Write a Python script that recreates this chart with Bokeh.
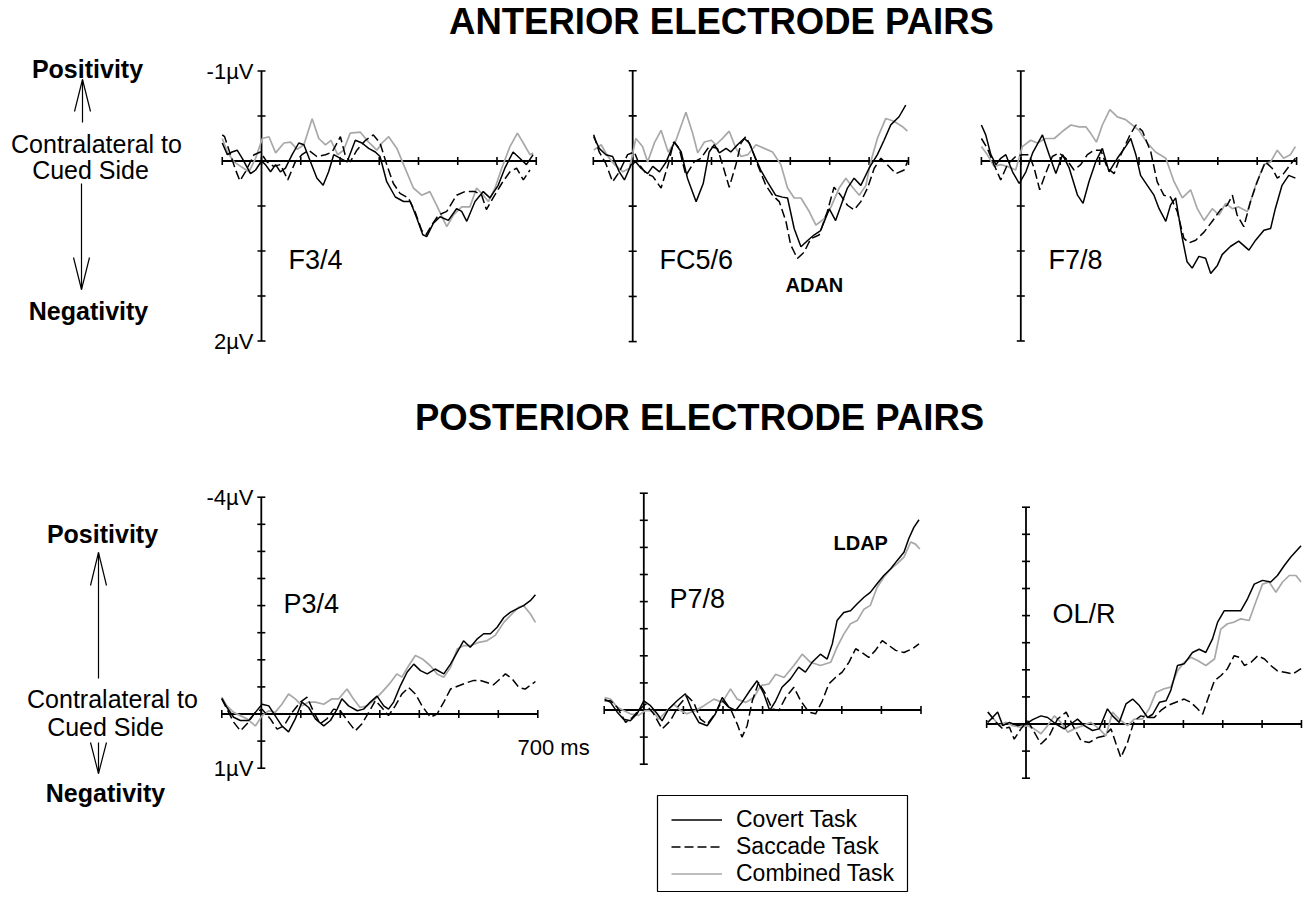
import numpy as np
from bokeh.plotting import figure
from bokeh.models import Range1d, Legend, LegendItem
from bokeh.core.properties import value
from bokeh.embed import file_html
from bokeh.resources import INLINE

# ---------------- data (time in ms, amplitude in microvolts) ----------------
T_MIN, T_MAX = -100, 700
TIME_TICKS = [-100, 0, 100, 200, 300, 400, 500, 600, 700]
SERIES_NAMES = ["Covert Task", "Saccade Task", "Combined Task"]
PANEL_LABELS = ["F3/4", "FC5/6", "F7/8", "P3/4", "P7/8", "OL/R"]
TOP_UV = [-1, 2]          # anterior amplitude axis (top, bottom)
BOTTOM_UV = [-4, 1]       # posterior amplitude axis (top, bottom)
UV_TICK_STEP = 0.5

# F3/4
f34_cov_t = [-100,-87,-75,-62,-49,-28,-15,0,10,23,36,48,61,78,95,108,125,141,157,171,184,201,218,239,256,273,290,302,319,341,362,379,396,411,421,438,455,476,497,510,523,544,565,582,603,620,641,658,675,692]
f34_cov_v = [-0.20,-0.07,-0.10,-0.12,-0.03,0.14,0.10,0.0,0.04,0.12,0.04,0.12,0.08,-0.07,-0.20,-0.18,0.01,0.19,0.27,0.12,-0.07,-0.03,0.01,-0.23,-0.20,-0.14,-0.10,-0.05,0.23,0.40,0.45,0.45,0.64,0.82,0.84,0.69,0.62,0.66,0.53,0.56,0.67,0.45,0.34,0.41,0.27,0.08,-0.10,-0.03,0.04,-0.07]
f34_sac_t = [-100,-94,-79,-66,-55,-41,-19,-3,14,31,48,67,86,103,120,141,163,180,201,213,226,243,265,285,302,319,336,353,374,391,408,419,434,451,472,497,518,544,561,573,590,612,633,650,667,684]
f34_sac_v = [-0.29,-0.27,-0.07,0.10,0.22,0.12,-0.07,-0.10,0.01,0.06,0.04,0.21,0.01,-0.07,-0.12,-0.05,-0.07,-0.10,-0.27,-0.07,0.01,-0.12,-0.23,-0.29,-0.20,0.04,0.25,0.36,0.41,0.56,0.77,0.82,0.71,0.60,0.56,0.38,0.34,0.34,0.38,0.54,0.41,0.25,0.12,0.08,0.21,0.10]
f34_com_t = [-100,-87,-70,-53,-32,-15,2,19,36,57,74,91,108,129,146,163,177,194,209,226,252,273,294,307,324,345,362,387,408,429,446,472,489,510,531,548,565,578,595,612,633,652,667,684,692]
f34_com_v = [-0.25,-0.10,0.01,0.06,0.12,-0.03,-0.25,-0.27,-0.09,-0.20,-0.21,-0.13,-0.18,-0.47,-0.25,-0.18,-0.23,-0.07,-0.12,-0.31,-0.32,-0.21,-0.12,-0.20,-0.27,-0.14,0.04,0.30,0.38,0.34,0.49,0.73,0.60,0.51,0.51,0.30,0.38,0.45,0.30,0.08,-0.16,-0.31,-0.20,-0.07,-0.09]

# FC5/6
fc56_cov_t = [-99,-85,-68,-51,-34,-21,-4,8,21,38,51,68,85,106,123,139,161,179,194,207,220,237,249,266,283,296,308,325,342,363,380,393,410,427,444,460,477,499,515,532,545,562,579,600,621,638,655,676,693]
fc56_cov_v = [-0.27,-0.14,-0.07,-0.05,0.12,0.21,0.04,0.01,0.08,0.14,0.06,0.12,0.01,-0.21,-0.10,0.19,0.45,0.25,-0.10,-0.18,-0.09,-0.14,-0.10,-0.18,-0.25,-0.20,-0.07,0.10,0.23,0.38,0.40,0.41,0.75,0.95,0.88,0.82,0.77,0.53,0.66,0.45,0.30,0.19,0.27,0.08,-0.07,-0.23,-0.40,-0.49,-0.62]
fc56_sac_t = [-99,-85,-68,-51,-34,-13,4,17,34,51,72,90,104,118,135,156,173,194,215,228,245,262,275,287,300,317,338,355,372,389,401,418,435,452,473,494,511,528,545,562,579,596,613,630,646,668,689,697]
fc56_sac_v = [-0.29,-0.10,0.03,0.23,0.12,-0.07,-0.10,0.04,0.14,0.17,0.30,0.04,-0.21,-0.14,0.16,0.01,-0.03,-0.16,-0.14,0.04,0.29,0.04,-0.20,-0.27,-0.16,0.04,0.27,0.38,0.45,0.67,0.93,1.08,1.01,0.86,0.82,0.56,0.29,0.38,0.49,0.54,0.45,0.30,0.08,-0.03,0.04,0.14,0.10,0.01]
fc56_com_t = [-99,-80,-63,-46,-25,-8,8,25,38,55,72,90,110,135,152,165,182,199,211,228,245,262,275,292,313,334,355,376,393,410,427,448,465,486,503,524,541,558,575,592,604,621,642,663,685,697]
fc56_com_v = [-0.12,-0.18,-0.05,0.04,0.12,0.08,-0.25,-0.16,0.01,-0.20,-0.34,-0.10,-0.23,-0.54,-0.31,-0.09,-0.21,-0.23,-0.18,-0.25,-0.33,-0.14,-0.05,-0.07,-0.18,-0.14,-0.10,0.04,0.30,0.41,0.41,0.56,0.71,0.64,0.51,0.30,0.19,0.29,0.38,0.27,0.01,-0.25,-0.47,-0.44,-0.38,-0.33]

# F7/8
f78_cov_t = [-100,-89,-76,-63,-51,-38,-21,-4,13,30,55,72,89,106,123,144,158,173,190,207,224,245,266,279,292,304,321,338,351,368,380,393,410,422,435,452,469,482,499,511,532,553,579,596,617,634,646,663,680,697]
f78_cov_v = [-0.40,-0.29,-0.07,0.04,-0.03,-0.07,0.12,0.25,0.12,-0.09,-0.29,-0.07,0.14,-0.07,0.08,0.38,0.47,0.23,0.01,-0.14,0.12,-0.03,-0.16,-0.25,-0.07,0.16,0.27,0.38,0.53,0.67,0.49,0.41,0.86,1.12,1.19,1.06,1.08,1.25,1.16,1.04,0.95,0.89,0.99,0.88,0.77,0.75,0.53,0.27,0.16,0.19]
f78_sac_t = [-100,-85,-68,-51,-34,-13,4,21,34,48,63,80,97,114,135,152,169,186,203,220,237,254,275,292,309,330,346,363,380,397,414,427,444,465,486,507,524,537,549,566,583,600,621,638,651,667,684,697]
f78_sac_v = [-0.25,-0.14,0.04,0.21,0.04,-0.05,-0.07,-0.07,0.08,0.32,0.14,-0.05,-0.09,-0.03,0.10,0.04,-0.07,-0.12,-0.12,0.08,0.14,-0.07,-0.27,-0.40,-0.33,-0.10,0.23,0.38,0.40,0.56,0.86,0.91,0.88,0.79,0.67,0.54,0.49,0.38,0.60,0.73,0.45,0.23,0.01,0.08,0.19,0.14,0.04,-0.03]
f78_com_t = [-100,-85,-68,-51,-34,-13,4,25,42,63,85,106,127,148,165,177,192,207,226,245,266,283,300,321,342,368,389,410,431,448,465,486,503,520,537,553,575,596,617,634,651,667,684,697]
f78_com_v = [-0.16,-0.07,0.06,0.04,0.06,0.10,-0.16,-0.23,-0.20,-0.25,-0.25,-0.33,-0.40,-0.38,-0.38,-0.31,-0.21,-0.40,-0.57,-0.49,-0.46,-0.40,-0.34,-0.20,-0.10,-0.03,0.23,0.41,0.32,0.53,0.66,0.53,0.60,0.47,0.53,0.51,0.56,0.27,0.04,0.01,-0.12,-0.03,-0.07,-0.16]

# P3/4
p34_cov_t = [-100,-87,-70,-53,-32,-15,2,19,35,52,69,86,103,120,137,158,175,192,204,221,243,259,276,293,310,322,335,352,369,386,403,420,440,462,479,496,512,529,546,563,580,597,614,631,647,664,681,694]
p34_cov_v = [-0.29,-0.12,0.06,0.12,0.12,-0.03,-0.18,-0.15,0.03,0.22,0.33,0.09,-0.22,-0.12,0.09,0.22,0.12,-0.09,-0.28,-0.15,-0.06,-0.09,-0.22,-0.33,-0.15,-0.09,-0.22,-0.52,-0.77,-0.92,-0.80,-0.74,-0.83,-0.74,-0.92,-1.14,-1.35,-1.23,-1.38,-1.48,-1.48,-1.60,-1.78,-1.88,-1.94,-2.00,-2.09,-2.20]
p34_sac_t = [-100,-87,-70,-53,-36,-15,2,23,40,57,78,99,116,133,149,166,183,200,221,238,255,272,289,305,322,339,356,373,390,407,428,445,462,479,500,521,538,554,571,588,605,618,635,652,668,685,694]
p34_sac_v = [-0.28,-0.09,0.15,0.31,0.18,-0.03,-0.09,0.09,0.28,0.22,-0.03,-0.22,-0.31,-0.03,0.18,0.09,-0.09,-0.06,0.15,0.31,0.18,-0.03,-0.25,-0.12,0.03,-0.15,-0.37,-0.49,-0.37,-0.15,0.06,0.0,-0.22,-0.46,-0.52,-0.58,-0.62,-0.62,-0.58,-0.54,-0.65,-0.74,-0.65,-0.49,-0.46,-0.55,-0.60]
p34_com_t = [-100,-87,-70,-53,-36,-15,2,19,35,52,69,86,103,120,137,158,179,196,217,233,250,268,285,305,327,343,356,373,390,407,428,445,462,479,496,512,529,550,571,592,614,635,652,664,681,694]
p34_com_v = [-0.31,-0.15,-0.03,0.03,0.09,0.22,0.03,-0.06,-0.03,-0.18,-0.37,-0.28,-0.15,-0.22,-0.22,-0.18,-0.28,-0.28,-0.46,-0.28,-0.12,-0.15,-0.25,-0.40,-0.58,-0.74,-0.68,-0.89,-1.08,-1.02,-0.89,-0.74,-0.68,-0.86,-1.20,-1.26,-1.26,-1.32,-1.35,-1.45,-1.69,-1.85,-1.97,-2.00,-1.85,-1.69]

# P7/8
p78_cov_t = [-99,-84,-67,-51,-34,-17,0,17,34,46,63,84,105,122,139,160,181,198,215,232,248,268,286,303,318,333,349,370,391,408,425,446,463,476,488,505,522,539,556,572,589,606,623,640,657,669,682,695]
p78_cov_v = [-0.20,-0.14,0.04,0.17,0.20,0.07,-0.17,-0.08,0.07,0.20,-0.02,-0.17,-0.30,0.01,0.23,0.29,0.07,-0.23,-0.05,0.01,-0.14,-0.36,-0.54,-0.30,0.01,-0.17,-0.42,-0.57,-0.79,-0.70,-0.88,-1.03,-0.94,-1.22,-1.65,-1.80,-1.83,-1.96,-2.08,-2.17,-2.33,-2.48,-2.60,-2.76,-2.91,-3.16,-3.37,-3.51]
p78_sac_t = [-99,-84,-67,-46,-29,-13,4,25,46,67,88,109,126,143,160,177,198,219,236,248,261,274,290,307,324,341,358,379,396,417,434,451,467,484,501,518,535,551,568,585,602,619,636,657,678,695]
p78_sac_v = [-0.17,-0.17,-0.05,0.23,0.14,0.01,-0.11,0.07,0.35,0.20,-0.08,-0.26,-0.14,0.17,0.26,0.10,-0.17,-0.02,0.26,0.50,0.29,-0.17,-0.51,-0.30,-0.02,0.01,-0.23,-0.42,-0.17,0.04,0.07,-0.17,-0.48,-0.60,-0.70,-0.88,-1.13,-1.06,-0.97,-1.10,-1.28,-1.19,-1.10,-1.06,-1.13,-1.22]
p78_com_t = [-99,-84,-67,-51,-34,-13,4,21,38,59,76,93,109,131,152,177,198,219,236,257,278,295,316,333,354,379,400,421,446,472,488,505,522,539,556,572,589,606,623,640,657,674,686,697]
p78_com_v = [-0.23,-0.20,-0.05,0.01,0.07,0.10,0.01,0.01,0.17,0.01,-0.11,0.01,0.07,0.01,-0.08,-0.20,-0.14,-0.39,-0.20,-0.14,-0.23,-0.45,-0.48,-0.66,-0.60,-0.82,-1.03,-0.88,-0.82,-0.88,-1.16,-1.40,-1.59,-1.65,-1.86,-1.93,-2.26,-2.45,-2.60,-2.70,-2.82,-3.10,-3.06,-2.97]

# OL/R
olr_cov_t = [-97,-85,-72,-59,-42,-21,0,17,38,55,76,97,114,131,148,169,186,207,220,237,254,271,288,309,322,339,356,368,385,402,423,440,457,474,487,504,525,546,563,580,601,622,639,656,673,699]
olr_cov_v = [-0.03,-0.12,-0.22,0.03,-0.03,0.03,0.0,-0.08,-0.15,-0.12,0.0,0.09,0.0,-0.09,0.03,0.12,0.09,-0.28,-0.15,-0.03,-0.37,-0.46,-0.34,-0.12,-0.18,-0.40,-0.43,-0.62,-1.08,-1.11,-1.32,-1.38,-1.32,-1.57,-1.88,-2.09,-2.09,-2.09,-2.31,-2.58,-2.65,-2.62,-2.74,-2.92,-3.08,-3.29]
olr_sac_t = [-97,-76,-59,-42,-30,-13,4,21,38,59,80,102,119,140,161,182,199,216,229,241,258,275,292,309,326,343,360,381,402,419,436,449,462,479,495,512,529,542,555,572,589,606,622,639,661,678,699]
olr_sac_v = [-0.22,-0.03,0.09,0.06,0.28,0.09,-0.06,0.15,0.37,0.22,-0.09,-0.22,0.03,0.31,0.34,0.25,0.22,0.09,0.37,0.62,0.34,-0.06,-0.15,-0.12,-0.12,-0.25,-0.34,-0.40,-0.46,-0.40,-0.28,-0.18,-0.46,-0.80,-0.89,-1.02,-1.26,-1.23,-1.08,-1.14,-1.26,-1.20,-1.08,-0.98,-0.95,-0.92,-1.02]
olr_com_t = [-97,-85,-68,-51,-34,-13,4,21,38,55,72,89,106,123,144,165,186,203,220,237,258,275,296,313,330,351,368,385,402,419,436,457,479,495,512,529,546,567,584,601,618,635,652,669,686,699]
olr_com_v = [-0.22,-0.12,0.03,-0.03,0.03,0.06,0.03,0.09,0.18,0.03,-0.15,-0.03,0.15,0.09,0.03,-0.03,0.09,0.22,-0.22,-0.09,0.03,-0.09,-0.09,-0.28,-0.58,-0.65,-0.68,-0.98,-1.14,-1.23,-1.17,-1.08,-1.20,-1.75,-1.85,-1.88,-1.94,-1.91,-2.25,-2.58,-2.62,-2.43,-2.62,-2.74,-2.74,-2.62]

PANEL_DATA = [
    [(f34_cov_t, f34_cov_v), (f34_sac_t, f34_sac_v), (f34_com_t, f34_com_v)],
    [(fc56_cov_t, fc56_cov_v), (fc56_sac_t, fc56_sac_v), (fc56_com_t, fc56_com_v)],
    [(f78_cov_t, f78_cov_v), (f78_sac_t, f78_sac_v), (f78_com_t, f78_com_v)],
    [(p34_cov_t, p34_cov_v), (p34_sac_t, p34_sac_v), (p34_com_t, p34_com_v)],
    [(p78_cov_t, p78_cov_v), (p78_sac_t, p78_sac_v), (p78_com_t, p78_com_v)],
    [(olr_cov_t, olr_cov_v), (olr_sac_t, olr_sac_v), (olr_com_t, olr_com_v)],
]

# ---------------- layout (picture pixels, canvas origin = picture origin) ----------------
W, H = 1303, 893
FONT_NAME = "Liberation Sans"
FONT = value(FONT_NAME)
GRAY = "#a8a8a8"

# x0: x of t=0, k: px per ms, y0: y of 0 uV, s: px per uV
GEOM = [
    dict(x0=261.0, k=0.3925, y0=160.5, s=90.0, uv=TOP_UV, lab=(288, 259)),
    dict(x0=632.2, k=0.394, y0=160.5, s=90.3, uv=TOP_UV, lab=(659, 259)),
    dict(x0=1020.3, k=0.394, y0=160.5, s=90.0, uv=TOP_UV, lab=(1048, 259)),
    dict(x0=260.8, k=0.395, y0=713.5, s=54.2, uv=BOTTOM_UV, lab=(283, 603)),
    dict(x0=643.3, k=0.396, y0=709.5, s=54.2, uv=BOTTOM_UV, lab=(669, 598)),
    dict(x0=1025.5, k=0.3935, y0=723.5, s=54.2, uv=BOTTOM_UV, lab=(1052, 613)),
]

p = figure(width=W, height=H, output_backend="svg", toolbar_location=None,
           x_range=Range1d(0, W), y_range=Range1d(H, 0),
           x_axis_type=None, y_axis_type=None, min_border=0,
           outline_line_color=None, background_fill_color="white",
           border_fill_color="white")

legend_renderers = None
for i, (g, series) in enumerate(zip(GEOM, PANEL_DATA)):
    xn, yn = f"x{i}", f"y{i}"
    p.extra_x_ranges[xn] = Range1d(start=-g["x0"] / g["k"], end=(W - g["x0"]) / g["k"])
    p.extra_y_ranges[yn] = Range1d(start=(H - g["y0"]) / g["s"], end=-g["y0"] / g["s"])
    kw = dict(x_range_name=xn, y_range_name=yn)
    top, bot = g["uv"]
    # axes
    p.line([T_MIN, T_MAX], [0, 0], line_color="black", line_width=1.8, **kw)
    p.line([0, 0], [top, bot], line_color="black", line_width=1.8, **kw)
    p.scatter(TIME_TICKS, [0] * len(TIME_TICKS), marker="dash", size=8, angle=np.pi / 2,
              line_color="black", line_width=1.6, **kw)
    uv_ticks = list(np.arange(top, bot + 1e-9, UV_TICK_STEP))
    p.scatter([0] * len(uv_ticks), uv_ticks, marker="dash", size=8,
              line_color="black", line_width=1.6, **kw)
    # curves
    (ct, cv), (st, sv), (gt, gv) = series
    r_com = p.line(gt, gv, line_color=GRAY, line_width=1.7, **kw)
    r_sac = p.line(st, sv, line_color="black", line_width=1.5, line_dash="9 4", **kw)
    r_cov = p.line(ct, cv, line_color="black", line_width=1.5, **kw)
    if i == 0:
        legend_renderers = [r_cov, r_sac, r_com]
    # amplitude labels on first column
    if i in (0, 3):
        p.text([0, 0], [top, bot], text=[f"{top}\u00b5V", f"{bot}\u00b5V"], x_offset=-8,
               text_align="right", text_baseline="middle", text_font=FONT,
               text_font_size="22px", text_color="black", **kw)
    # panel label
    p.text([g["lab"][0]], [g["lab"][1]], text=[PANEL_LABELS[i]], text_align="left",
           text_baseline="middle", text_font=FONT, text_font_size="27px", text_color="black")

# component labels
p.text([785, 833], [284, 542], text=["ADAN", "LDAP"], text_align="left", text_baseline="middle",
       text_font=FONT, text_font_style="bold", text_font_size="20px", text_color="black")
p.text([517], [747], text=["700 ms"], text_align="left", text_baseline="middle",
       text_font=FONT, text_font_size="22px", text_color="black")

# section titles
p.text([721, 699], [21, 417], text=["ANTERIOR ELECTRODE PAIRS", "POSTERIOR ELECTRODE PAIRS"],
       text_align="center", text_baseline="middle", text_font=FONT, text_font_style="bold",
       text_font_size="36.5px", text_color="black")

# polarity annotations
p.text([87, 88, 102, 105], [68, 310, 533, 792], text=["Positivity", "Negativity", "Positivity", "Negativity"],
       text_align="center", text_baseline="middle", text_font=FONT, text_font_style="bold",
       text_font_size="25px", text_color="black")
p.text([96, 90, 112, 105], [143, 169, 698, 726],
       text=["Contralateral to", "Cued Side", "Contralateral to", "Cued Side"],
       text_align="center", text_baseline="middle", text_font=FONT,
       text_font_size="25px", text_color="black")

# arrows (shaft + open head)
arrow_xs = [[82, 82], [74, 82, 90], [81, 81], [73, 81, 89],
            [98, 98], [90, 98, 106], [98, 98], [90, 98, 106]]
arrow_ys = [[79, 122], [111, 79, 111], [183, 289], [257, 289, 257],
            [552, 678], [585, 552, 585], [742, 773], [742, 773, 742]]
p.multi_line(arrow_xs, arrow_ys, line_color="black", line_width=1.2)

# legend frame
p.quad(left=[657], right=[907], top=[795], bottom=[891], fill_color="white",
       line_color="black", line_width=1.2)
legend = Legend(items=[LegendItem(label=n, renderers=[r]) for n, r in zip(SERIES_NAMES, legend_renderers)],
                location=(671, 6), orientation="vertical",
                label_text_font=FONT_NAME, label_text_font_size="23px", label_text_color="black",
                glyph_width=51, glyph_height=27, label_height=27, label_standoff=14,
                spacing=0, padding=0, margin=0,
                border_line_color=None, background_fill_alpha=0.0)
p.add_layout(legend)

open("out.html", "w").write(file_html(p, INLINE))
